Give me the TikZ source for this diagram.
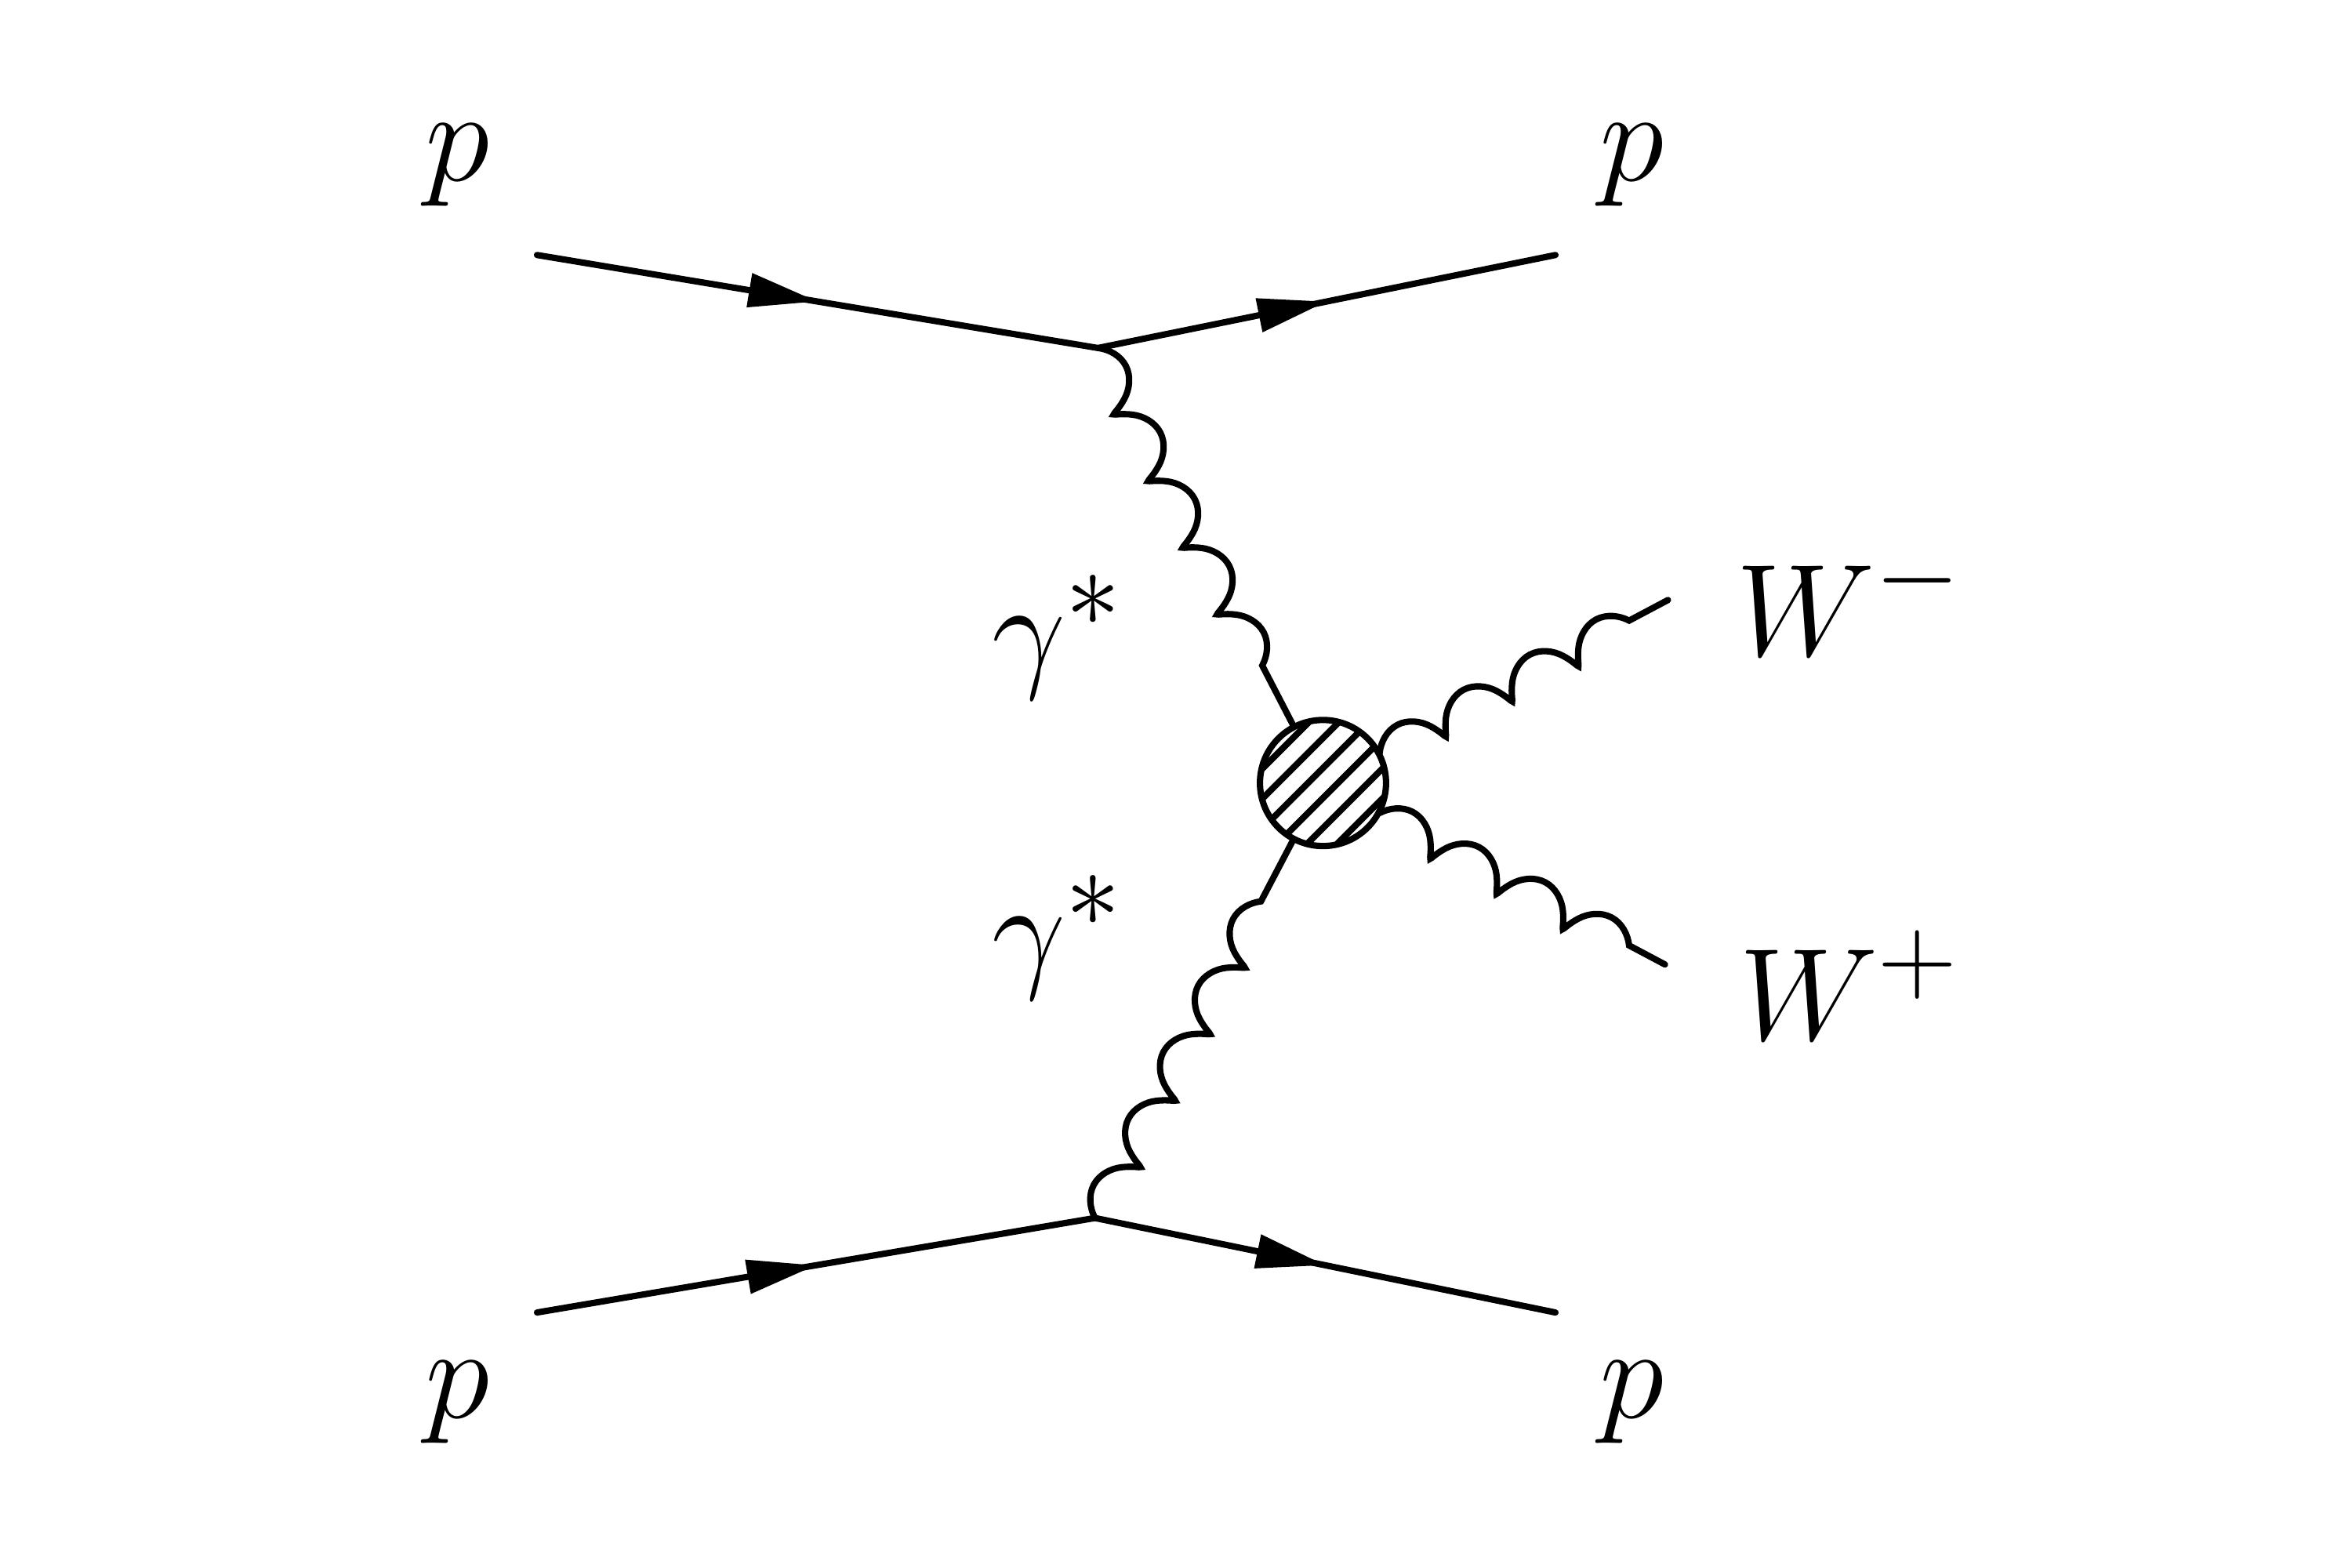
\documentclass[tikz,border=0pt]{standalone}
\usetikzlibrary{decorations.pathmorphing,decorations.markings,arrows.meta}
\begin{document}
\begin{tikzpicture}[x=0.01cm,y=-0.01cm,
  fermion/.style={line width=1.2pt,line cap=round,postaction={decorate},
    decoration={markings,mark=at position 0.5 with {\arrow{Triangle[length=0.46cm,width=0.22cm]}}}},
  photon/.style={line width=1.2pt,line cap=round,decorate,
    decoration={coil,aspect=0.6,amplitude=0.11cm,segment length=0.5cm,pre length=0pt,post length=0pt}},
  lab/.style={font=\fontsize{30}{36}\selectfont}]
\useasboundingbox (0,0) rectangle (1568,1045);
\coordinate (a1) at (358,170); \coordinate (v1) at (732,232); \coordinate (b1) at (1037,170);
\coordinate (a2) at (358,875); \coordinate (v2) at (730,812); \coordinate (b2) at (1037,875);
\coordinate (wm) at (1112,400); \coordinate (wp) at (1110,643);
\node (blob) [circle, minimum size=0.84cm, inner sep=0pt] at (882,522) {};
\draw[fermion] (a1) -- (v1);
\draw[fermion] (v1) -- (b1);
\draw[fermion] (a2) -- (v2);
\draw[fermion] (v2) -- (b2);
\draw[photon] (v1) -- (blob);
\draw[photon] (v2) -- (blob);
\draw[photon] (blob) -- (wm);
\draw[photon] (blob) -- (wp);
\fill[white] (882,522) circle (0.42cm);
\begin{scope}
\clip (882,522) circle (0.42cm);
\foreach \d in {-25,-15,-5,5,15,25}
  \draw[line width=1.2pt] (882-60+\d,522+60+\d) -- (882+60+\d,522-60+\d);
\end{scope}
\draw[line width=1.2pt] (882,522) circle (0.42cm);
\node[lab] (p1) at (305,110) {$p$};
\node[lab] (p2) at (1088,110) {$p$};
\node[lab] (p3) at (305,935) {$p$};
\node[lab] (p4) at (1088,935) {$p$};
\node[lab] (g1) at (705,425) {$\gamma^*$};
\node[lab] (g2) at (705,625) {$\gamma^*$};
\node[lab] (w1) at (1233,400) {$W^-$};
\node[lab] (w2) at (1233,657) {$W^+$};
\end{tikzpicture}
\end{document}
